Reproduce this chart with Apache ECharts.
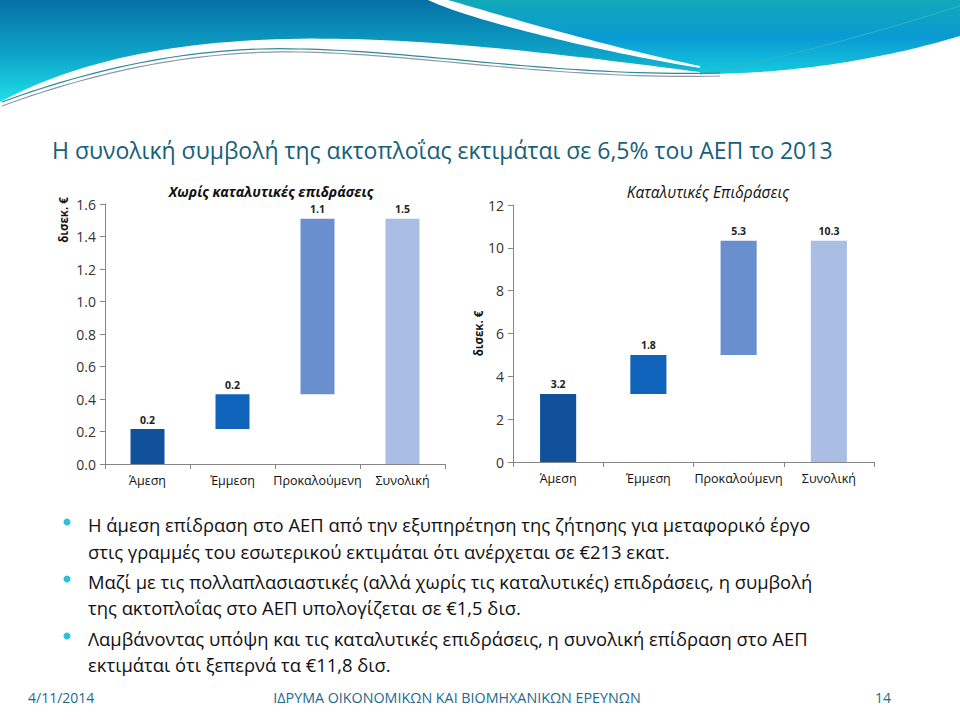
<!DOCTYPE html>
<html>
<head>
<meta charset="utf-8">
<script src="https://cdn.jsdelivr.net/npm/echarts@6/dist/echarts.min.js"></script>
<style>
html,body{margin:0;padding:0;background:#fff;}
#main{width:960px;height:720px;}
</style>
</head>
<body>
<div id="main"></div>
<script>
// ---- Data ----
const categories = ['Άμεση', 'Έμμεση', 'Προκαλούμενη', 'Συνολική'];
const noCatalyticValues = [0.215, 0.215, 1.08, 1.51];   // δισεκ. €
const catalyticValues = [3.18, 1.82, 5.33, 10.33];       // δισεκ. €
const leftTicks = { min: 0, max: 1.6, interval: 0.2 };
const rightTicks = { min: 0, max: 12, interval: 2 };
const slideTitle = 'Η συνολική συμβολή της ακτοπλοΐας εκτιμάται σε 6,5% του ΑΕΠ το 2013';
const leftTitle = 'Χωρίς καταλυτικές επιδράσεις';
const rightTitle = 'Καταλυτικές Επιδράσεις';
const unitName = 'δισεκ. €';
const bulletLines = [
  ['Η άμεση επίδραση στο ΑΕΠ από την εξυπηρέτηση της ζήτησης για μεταφορικό έργο',
   'στις γραμμές του εσωτερικού εκτιμάται ότι ανέρχεται σε €213 εκατ.'],
  ['Μαζί με τις πολλαπλασιαστικές (αλλά χωρίς τις καταλυτικές) επιδράσεις, η συμβολή',
   'της ακτοπλοΐας στο ΑΕΠ υπολογίζεται σε €1,5 δισ.'],
  ['Λαμβάνοντας υπόψη και τις καταλυτικές επιδράσεις, η συνολική επίδραση στο ΑΕΠ',
   'εκτιμάται ότι ξεπερνά τα €11,8 δισ.']
];
const footerDate = '4/11/2014';
const footerOrg = 'ΙΔΡΥΜΑ ΟΙΚΟΝΟΜΙΚΩΝ ΚΑΙ ΒΙΟΜΗΧΑΝΙΚΩΝ ΕΡΕΥΝΩΝ';
const footerPage = '14';

// ---- Helpers ----
const barColors = ['#11509a', '#0f63bb', '#6a8fcf', '#a9bee2'];
const FONT = '"Open Sans","Noto Sans",sans-serif';

function waterfallBase(vals) {
  const base = [];
  let acc = 0;
  for (let i = 0; i < vals.length; i++) {
    if (i === vals.length - 1) { base.push(0); }
    else { base.push(acc); acc += vals[i]; }
  }
  return base;
}

function axisPair(gridIndex, ticks, labelFmt, withName) {
  const x = {
    type: 'category', gridIndex: gridIndex, data: categories,
    axisLine: { lineStyle: { color: '#868686', width: 1 } },
    axisTick: { show: true, length: 5, lineStyle: { color: '#868686' } },
    axisLabel: { color: '#111', fontSize: 12.5, fontFamily: FONT, margin: 10, interval: 0 }
  };
  const y = {
    type: 'value', gridIndex: gridIndex, min: ticks.min, max: ticks.max, interval: ticks.interval,
    axisLine: { show: true, lineStyle: { color: '#868686', width: 1 } },
    axisTick: { show: true, length: 5, lineStyle: { color: '#868686' } },
    splitLine: { show: false },
    axisLabel: { color: '#333', fontSize: 14, fontFamily: FONT, margin: 9, formatter: labelFmt }
  };
  if (withName) {
    y.name = unitName;
    y.nameLocation = 'middle';
    y.nameGap = 28;
    y.nameTextStyle = { fontWeight: 'bold', fontSize: 11.5, color: '#111', fontFamily: FONT };
  }
  return [x, y];
}

function seriesPair(idx, vals) {
  const base = waterfallBase(vals);
  return [
    {
      type: 'bar', xAxisIndex: idx, yAxisIndex: idx, stack: 's' + idx,
      data: base, barWidth: '40%', silent: true,
      itemStyle: { color: 'rgba(0,0,0,0)' }
    },
    {
      type: 'bar', xAxisIndex: idx, yAxisIndex: idx, stack: 's' + idx,
      data: vals.map((v, i) => ({ value: v, itemStyle: { color: barColors[i] } })),
      barWidth: '40%',
      label: {
        show: true, position: 'top', distance: 4,
        fontWeight: 'bold', fontSize: 10.5, color: '#222', fontFamily: FONT,
        formatter: p => p.value.toFixed(1)
      }
    }
  ];
}

const leftAxes = axisPair(0, leftTicks, v => v.toFixed(1), false);
const rightAxes = axisPair(1, rightTicks, v => String(v), true);

// ---- Decorative header waves (sampled cubic curves) ----
function cubic(p0, p1, p2, p3, n) {
  const pts = [];
  for (let i = 0; i <= n; i++) {
    const t = i / n, u = 1 - t;
    pts.push([
      u*u*u*p0[0] + 3*u*u*t*p1[0] + 3*u*t*t*p2[0] + t*t*t*p3[0],
      u*u*u*p0[1] + 3*u*u*t*p1[1] + 3*u*t*t*p2[1] + t*t*t*p3[1]
    ]);
  }
  return pts;
}
const shapeA = [[0, 0], [428, 0]]
  .concat(cubic([428, 0], [470, 20], [600, 52], [700, 68], 40))
  .concat(cubic([700, 72], [450, 40], [180, 5], [0, 102], 60));
const shapeB = [[448, 0], [960, 0], [960, 36]]
  .concat(cubic([960, 36], [880, 60], [790, 74], [700, 74], 40))
  .concat(cubic([700, 66], [600, 45], [500, 15], [448, 0], 40));
const lineB = cubic([700, 74], [800, 55], [900, 25], [960, 6], 40);
const lineGrey = cubic([2, 106], [100, 70], [200, 50], [300, 52], 30).concat(cubic([300, 52], [420, 54], [560, 80], [720, 76], 40));
const lineTeal = cubic([2, 102], [100, 66], [200, 46], [300, 49], 30).concat(cubic([300, 49], [420, 51], [560, 77], [720, 73], 40));

const waveGraphics = [
  {
    type: 'polygon', silent: true, shape: { points: shapeA },
    style: {
      fill: { type: 'linear', x: 0, y: 0, x2: 0, y2: 1, global: false,
        colorStops: [{ offset: 0, color: '#0570a6' }, { offset: 0.55, color: '#0ea6c8' }, { offset: 1, color: '#1edfea' }] }
    }
  },
  {
    type: 'polygon', silent: true, shape: { points: shapeB },
    style: {
      fill: { type: 'linear', x: 0, y: 0, x2: 0, y2: 1, global: false,
        colorStops: [{ offset: 0, color: '#12a9b8' }, { offset: 0.5, color: '#0a9ad4' }, { offset: 1, color: '#16cadd' }] }
    }
  },
  { type: 'polyline', silent: true, shape: { points: lineB }, style: { fill: null, stroke: '#2fb6c6', lineWidth: 1 } },
  { type: 'polyline', silent: true, shape: { points: lineGrey }, style: { fill: null, stroke: '#8d9ba5', lineWidth: 1.2 } },
  { type: 'polyline', silent: true, shape: { points: lineTeal }, style: { fill: null, stroke: '#2c8a9c', lineWidth: 1.2 } }
];

// ---- Text graphics ----
const textGraphics = [];
textGraphics.push({
  type: 'text', x: 52, y: 150,
  style: { text: slideTitle, fill: '#17607a', font: '23px ' + FONT, textAlign: 'left', textVerticalAlign: 'middle' }
});
textGraphics.push({
  type: 'text', x: 63, y: 220, rotation: Math.PI / 2,
  style: { text: unitName, fill: '#111', font: 'bold 11.5px ' + FONT, textAlign: 'center', textVerticalAlign: 'middle' }
});
const lineYs = [[524, 551], [581, 607], [638, 664]];
bulletLines.forEach((pair, k) => {
  textGraphics.push({
    type: 'circle', shape: { cx: 67, cy: lineYs[k][0] - 2, r: 3.5 },
    style: { fill: '#27c3dc' }
  });
  pair.forEach((t, j) => {
    textGraphics.push({
      type: 'text', x: 88, y: lineYs[k][j],
      style: { text: t, fill: '#111', font: '18.4px ' + FONT, textAlign: 'left', textVerticalAlign: 'middle' }
    });
  });
});
textGraphics.push({
  type: 'text', x: 28, y: 697,
  style: { text: footerDate, fill: '#1c6a8c', font: '14px ' + FONT, textAlign: 'left', textVerticalAlign: 'middle' }
});
textGraphics.push({
  type: 'text', x: 457, y: 697,
  style: { text: footerOrg, fill: '#1c6a8c', font: '14.3px ' + FONT, textAlign: 'center', textVerticalAlign: 'middle' }
});
textGraphics.push({
  type: 'text', x: 891, y: 697,
  style: { text: footerPage, fill: '#1c6a8c', font: '14px ' + FONT, textAlign: 'right', textVerticalAlign: 'middle' }
});

const chart = echarts.init(document.getElementById('main'), null, { renderer: 'svg', width: 960, height: 720 });
chart.setOption({
  backgroundColor: '#ffffff',
  animation: false,
  title: [
    { text: leftTitle, left: 266, top: 179, textAlign: 'center',
      textStyle: { fontSize: 14, fontWeight: 'bold', fontStyle: 'italic', color: '#111', fontFamily: FONT } },
    { text: rightTitle, left: 703, top: 179, textAlign: 'center',
      textStyle: { fontSize: 15.5, fontWeight: 'normal', fontStyle: 'italic', color: '#111', fontFamily: FONT } }
  ],
  grid: [
    { left: 105, top: 204, width: 340, height: 260, containLabel: false },
    { left: 513, top: 205, width: 361, height: 257, containLabel: false }
  ],
  xAxis: [leftAxes[0], rightAxes[0]],
  yAxis: [leftAxes[1], rightAxes[1]],
  series: [...seriesPair(0, noCatalyticValues), ...seriesPair(1, catalyticValues)],
  graphic: { elements: [...waveGraphics, ...textGraphics] }
});
</script>
</body>
</html>
